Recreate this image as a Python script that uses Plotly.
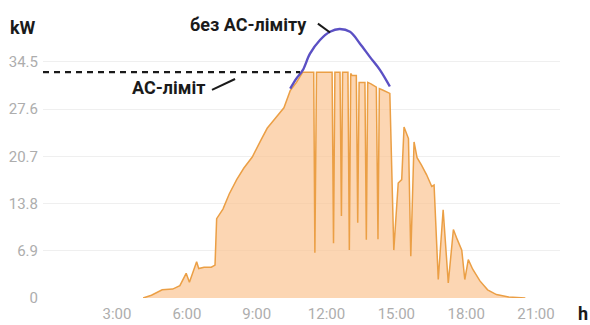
import plotly.graph_objects as go

# Actual production (with AC limit), hours vs kW
hours = [4.12, 4.48, 4.94, 5.39, 5.70, 5.97, 6.11, 6.42, 6.51, 6.74, 7.05, 7.21, 7.28, 7.55, 7.82,
         8.14, 8.45, 8.81, 9.17, 9.45, 9.81, 10.17, 10.44, 10.71, 10.98, 11.45, 11.50, 11.57,
         12.24, 12.30, 12.36, 12.58, 12.64, 12.69, 12.92, 12.98, 13.04, 13.10, 13.28, 13.34,
         13.40, 13.65, 13.71, 13.77, 13.91, 14.14, 14.21, 14.27, 14.41, 14.72, 14.89, 15.08,
         15.23, 15.33, 15.52, 15.62, 15.76, 15.89, 16.08, 16.30, 16.52, 16.62, 16.80, 17.01,
         17.23, 17.45, 17.61, 17.81, 17.94, 18.09, 18.28, 18.59, 18.92, 19.30, 19.82, 20.54]
power = [0, 0.4, 1.2, 1.3, 1.8, 3.6, 2.3, 5.3, 4.3, 4.5, 4.5, 4.8, 11.6, 13.0, 15.2,
         17.3, 19.0, 20.6, 23.0, 24.8, 26.3, 27.8, 30.3, 31.5, 33.0, 33.0, 6.6, 33.0,
         33.0, 8.0, 33.0, 33.0, 12.0, 33.0, 33.0, 7.0, 32.8, 32.5, 32.5, 11.0,
         31.5, 31.5, 8.5, 31.5, 31.3, 30.8, 8.6, 30.6, 30.4, 29.9, 7.0, 16.8,
         17.3, 25.0, 23.3, 6.1, 22.8, 20.5, 19.4, 18.0, 16.3, 16.5, 2.7, 12.9,
         2.2, 10.0, 8.6, 7.0, 2.7, 5.6, 4.2, 2.5, 1.2, 0.5, 0.15, 0]

# Production without AC limit
hours_nolimit = [10.44, 10.71, 10.98, 11.29, 11.72, 12.15, 12.56, 13.01, 13.43, 13.87, 14.30, 14.72]
power_nolimit = [30.6, 32.1, 33.3, 35.7, 37.7, 38.9, 39.3, 38.9, 37.2, 35.2, 33.3, 30.9]

AC_LIMIT = 33.0
AC_LINE_END = 10.86

y_ticks = [0, 6.9, 13.8, 20.7, 27.6, 34.5]
y_tick_labels = ["0", "6.9", "13.8", "20.7", "27.6", "34.5"]
x_ticks = [3, 6, 9, 12, 15, 18, 21]
x_tick_labels = ["3:00", "6:00", "9:00", "12:00", "15:00", "18:00", "21:00"]

X_RANGE = [-0.18, 22.03]

fig = go.Figure()

fig.add_trace(go.Scatter(
    x=hours, y=power, mode="lines", fill="tozeroy",
    fillcolor="rgba(251,192,138,0.65)",
    line=dict(color="#eb9f45", width=1.5),
    hoverinfo="skip", showlegend=False))

fig.add_trace(go.Scatter(
    x=hours_nolimit, y=power_nolimit, mode="lines", line_shape="spline",
    line=dict(color="#5b50c4", width=2.4),
    hoverinfo="skip", showlegend=False))

fig.add_trace(go.Scatter(
    x=[X_RANGE[0], AC_LINE_END], y=[AC_LIMIT, AC_LIMIT], mode="lines",
    line=dict(color="#1a1a1a", width=2.2, dash="6px,5px"),
    hoverinfo="skip", showlegend=False))

# leader lines for labels
fig.add_shape(type="line", x0=11.63, y0=40.1, x1=12.15, y1=38.8,
              line=dict(color="#1a1a1a", width=2))
fig.add_shape(type="line", x0=7.08, y0=30.4, x1=8.07, y1=32.0,
              line=dict(color="#1a1a1a", width=2))

font_family = "Roboto, Arial, sans-serif"

fig.add_annotation(x=8.63, y=39.9, text="<b>без АС-ліміту</b>", showarrow=False,
                   font=dict(size=18, color="#1a1a1a", family=font_family))
fig.add_annotation(x=5.19, y=30.7, text="<b>АС-ліміт</b>", showarrow=False,
                   font=dict(size=18, color="#1a1a1a", family=font_family))
fig.add_annotation(xref="paper", yref="paper", x=-0.039, y=0.951,
                   xanchor="center", yanchor="middle",
                   text="<b>kW</b>", showarrow=False,
                   font=dict(size=18, color="#1a1a1a", family=font_family))
fig.add_annotation(xref="paper", yref="paper", x=1.044, y=-0.056,
                   xanchor="center", yanchor="middle",
                   text="<b>h</b>", showarrow=False,
                   font=dict(size=18, color="#1a1a1a", family=font_family))

fig.update_layout(
    width=590, height=325,
    margin=dict(l=43, r=30, t=14, b=27),
    paper_bgcolor="white", plot_bgcolor="white",
    font=dict(family=font_family),
    xaxis=dict(range=X_RANGE, tickvals=x_ticks, ticktext=x_tick_labels,
               showgrid=False, zeroline=False, showline=False, ticks="",
               automargin=False, ticklabelstandoff=5,
               tickfont=dict(size=15, color="#adadad")),
    yaxis=dict(range=[0, 41.5], tickvals=y_ticks, ticktext=y_tick_labels,
               showgrid=True, gridcolor="#efefef", gridwidth=1, zeroline=False,
               showline=False, ticks="", ticklabelstandoff=4, automargin=False,
               tickfont=dict(size=15, color="#adadad")),
)

fig.write_html("out.html", config={"displayModeBar": False},
               post_script="document.body.style.margin='0px';document.body.style.overflow='hidden';")
